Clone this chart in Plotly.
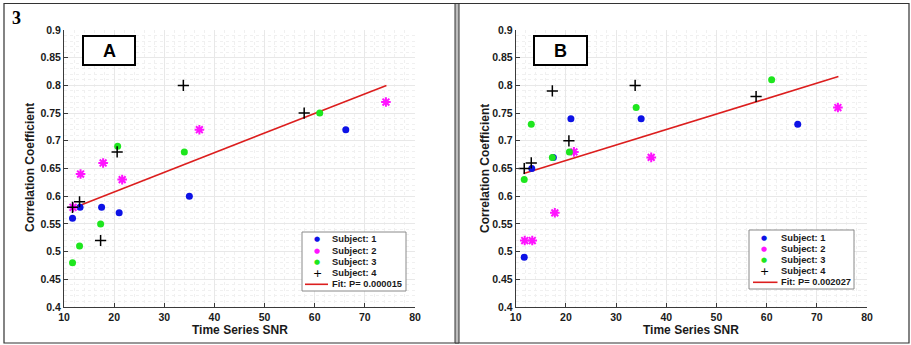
import plotly.graph_objects as go

W, H = 911, 345

# ---- data ----
snr_s1 = [11.7, 13.2, 17.5, 21.0, 35.0, 66.2]
snr_s2 = [11.8, 13.3, 17.8, 21.6, 37.0, 74.2]
snr_s3 = [11.7, 13.1, 17.3, 20.7, 34.0, 61.0]
snr_s4 = [11.7, 13.1, 17.3, 20.6, 33.8, 57.9]

corrA_s1 = [0.56, 0.58, 0.58, 0.57, 0.60, 0.72]
corrA_s2 = [0.58, 0.64, 0.66, 0.63, 0.72, 0.77]
corrA_s3 = [0.48, 0.51, 0.55, 0.69, 0.68, 0.75]
corrA_s4 = [0.58, 0.59, 0.52, 0.68, 0.80, 0.75]
fitA_x = [11.6, 74.3]
fitA_y = [0.578, 0.800]

corrB_s1 = [0.49, 0.65, 0.67, 0.74, 0.74, 0.73]
corrB_s2 = [0.52, 0.52, 0.57, 0.68, 0.67, 0.76]
corrB_s3 = [0.63, 0.73, 0.67, 0.68, 0.76, 0.81]
corrB_s4 = [0.65, 0.66, 0.79, 0.70, 0.80, 0.78]
fitB_x = [11.6, 74.3]
fitB_y = [0.641, 0.816]

subject_names = ["Subject: 1", "Subject: 2", "Subject: 3", "Subject: 4"]
fit_labels = ["Fit: P= 0.000015", "Fit: P= 0.002027"]
panel_labels = ["A", "B"]
x_ticks = [10, 20, 30, 40, 50, 60, 70, 80]
y_ticks = [0.4, 0.45, 0.5, 0.55, 0.6, 0.65, 0.7, 0.75, 0.8, 0.85, 0.9]
y_ticktext = ["0.4", "0.45", "0.5", "0.55", "0.6", "0.65", "0.7", "0.75", "0.8", "0.85", "0.9"]

# ---- styles ----
BLUE = "#0d12e6"
MAG = "#ff14ff"
GREEN = "#1ee61e"
BLACK = "#000000"
RED = "#dc1e1e"
FONT = "Liberation Sans"

def px(x):
    return x / W

def py(y):
    return 1 - y / H

fig = go.Figure()

def add_panel(xa, ya, s1, s2, s3, s4, fx, fy):
    fig.add_trace(go.Scatter(x=fx, y=fy, mode="lines", line=dict(color=RED, width=1.6),
                             xaxis=xa, yaxis=ya, showlegend=False, hoverinfo="skip"))
    fig.add_trace(go.Scatter(x=snr_s1, y=s1, mode="markers", xaxis=xa, yaxis=ya, showlegend=False,
                             marker=dict(color=BLUE, size=7, line=dict(width=0))))
    fig.add_trace(go.Scatter(x=snr_s2, y=s2, mode="markers", xaxis=xa, yaxis=ya, showlegend=False,
                             marker=dict(symbol="asterisk-open", color=MAG, size=8,
                                         line=dict(color=MAG, width=2.0))))
    fig.add_trace(go.Scatter(x=snr_s3, y=s3, mode="markers", xaxis=xa, yaxis=ya, showlegend=False,
                             marker=dict(color=GREEN, size=7, line=dict(width=0))))
    fig.add_trace(go.Scatter(x=snr_s4, y=s4, mode="markers", xaxis=xa, yaxis=ya, showlegend=False,
                             marker=dict(symbol="cross-thin-open", color=BLACK, size=8,
                                         line=dict(color=BLACK, width=1.5))))

add_panel("x", "y", corrA_s1, corrA_s2, corrA_s3, corrA_s4, fitA_x, fitA_y)
add_panel("x2", "y2", corrB_s1, corrB_s2, corrB_s3, corrB_s4, fitB_x, fitB_y)

tickfont = dict(family=FONT, size=10.5, color="#1a1a1a", weight="bold")

def xaxis_cfg(x0, x1, anchor):
    return dict(domain=[px(x0), px(x1)], range=[10, 80], tickvals=x_ticks, anchor=anchor,
                automargin=False,
                showline=True, linecolor="#3a3a3a", linewidth=1, mirror=False,
                ticks="inside", ticklen=4, tickcolor="#3a3a3a", tickfont=tickfont,
                showgrid=True, gridcolor="#e8e8e8", gridwidth=1, zeroline=False,
                minor=dict(dtick=2, showgrid=True, gridcolor="#f0f0f0", griddash="dot", gridwidth=1))

def yaxis_cfg(anchor):
    return dict(domain=[py(307), py(30)], range=[0.4, 0.9], tickvals=y_ticks, ticktext=y_ticktext,
                anchor=anchor, automargin=False,
                showline=True, linecolor="#3a3a3a", linewidth=1, mirror=False,
                ticks="inside", ticklen=4, tickcolor="#3a3a3a", tickfont=tickfont,
                showgrid=True, gridcolor="#e8e8e8", gridwidth=1, zeroline=False,
                minor=dict(dtick=0.01, showgrid=True, gridcolor="#f0f0f0", griddash="dot", gridwidth=1))

shapes = []
annotations = []

def ann(text, x, y, size, color="#1a1a1a", family=FONT, xanchor="center", yanchor="middle", angle=0):
    annotations.append(dict(text=text, x=px(x), y=py(y), xref="paper", yref="paper",
                            xanchor=xanchor, yanchor=yanchor, showarrow=False, textangle=angle,
                            font=dict(family=family, size=size, color=color)))

# outer frame and divider
shapes.append(dict(type="rect", xref="paper", yref="paper", x0=px(4), x1=px(909), y0=py(343), y1=py(3.5),
                   line=dict(color="#333333", width=1.2)))
shapes.append(dict(type="rect", xref="paper", yref="paper", x0=px(455), x1=px(459), y0=py(343), y1=py(3.5),
                   fillcolor="#bdbdbd", line=dict(color="#333333", width=1)))

ann("<b>3</b>", 10, 18, 18, color="black", family="Liberation Serif", xanchor="left")

def panel_deco(off, plot_x0, plot_x1, box, legbox, leg_mx, leg_tx, rows, line_x, fit_label, label):
    # label box
    shapes.append(dict(type="rect", xref="paper", yref="paper", x0=px(box[0]), x1=px(box[2]),
                       y0=py(box[3]), y1=py(box[1]), line=dict(color="black", width=2), fillcolor="white"))
    ann("<b>%s</b>" % label, (box[0] + box[2]) / 2, (box[1] + box[3]) / 2 + 1, 18, color="black")
    # axis titles
    ann("<b>Time Series SNR</b>", (plot_x0 + plot_x1) / 2, 330, 12)
    ann("<b>Correlation Coefficient</b>", off + 30, 168, 12, angle=-90)
    # legend box
    shapes.append(dict(type="rect", xref="paper", yref="paper", x0=px(legbox[0]), x1=px(legbox[2]),
                       y0=py(legbox[3]), y1=py(legbox[1]), line=dict(color="#8a8a8a", width=1),
                       fillcolor="white"))
    syms = [("●", BLUE, 7), ("●", MAG, 7), ("●", GREEN, 7), ("+", BLACK, 11)]
    for i, (sym, col, sz) in enumerate(syms):
        ann(sym, leg_mx, rows[i], sz, color=col, family="DejaVu Sans")
        ann("<b>%s</b>" % subject_names[i], leg_tx, rows[i], 9.3, xanchor="left")
    shapes.append(dict(type="line", xref="paper", yref="paper", x0=px(line_x[0]), x1=px(line_x[1]),
                       y0=py(rows[4]), y1=py(rows[4]), line=dict(color=RED, width=1.6)))
    ann("<b>%s</b>" % fit_label, leg_tx, rows[4], 9.3, xanchor="left")

panel_deco(0, 64, 415, (83, 36, 135, 65), (302, 232, 406, 291), 317, 330,
           [239.3, 250.7, 261.7, 273.3, 284.3], (305, 328), fit_labels[0], panel_labels[0])
panel_deco(455, 515.7, 867, (534, 36, 587, 65), (749, 230, 854, 289), 764.3, 779,
           [238, 248.7, 260.3, 271.3, 282.3], (753, 777.5), fit_labels[1], panel_labels[1])

fig.update_layout(
    template="none",
    width=W, height=H, margin=dict(l=0, r=0, t=0, b=0, autoexpand=False),
    paper_bgcolor="white", plot_bgcolor="white", showlegend=False,
    xaxis=xaxis_cfg(64, 415, "y"), yaxis=yaxis_cfg("x"),
    xaxis2=xaxis_cfg(515.7, 867, "y2"), yaxis2=yaxis_cfg("x2"),
    shapes=shapes, annotations=annotations,
)

fig.write_html("out.html", config={"displayModeBar": False},
               post_script="document.body.style.margin='0';document.body.style.overflow='hidden';")
